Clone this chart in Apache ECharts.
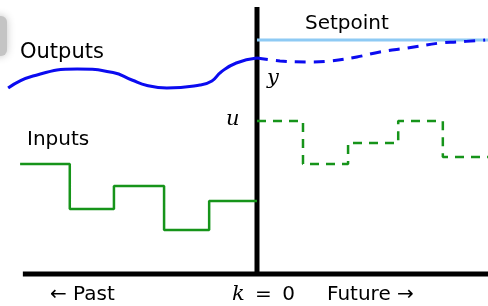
<!DOCTYPE html>
<html lang="en">
<head>
    <meta charset="UTF-8">
    <title>MPC</title>
    <script src="https://cdn.jsdelivr.net/npm/echarts@6/dist/echarts.min.js"></script>
    <style>
        html, body { margin: 0; padding: 0; background: #fff; }
        #main { width: 488px; height: 306px; }
    </style>
</head>
<body>
<div id="main"></div>
<script>
    // time in sample steps (k = 0 is now), values in arbitrary units
    const outT = [-5.41, -4.87, -3.91, -3.13, -2.72, -2.39, -1.96, -1.24, -0.98, -0.78, -0.45, 0];
    const outY = [18.6, 19.8, 20.5, 20.15, 19.4, 18.85, 18.6, 18.9, 19.3, 20.2, 21.1, 21.6];
    const predT = [0, 0.5, 1.09, 1.59, 2.17, 2.67, 3.26, 3.98, 4.35, 4.96];
    const predY = [21.6, 21.3, 21.2, 21.3, 21.7, 22.2, 22.6, 23.1, 23.2, 23.4];
    const setpoint = 23.4;
    const pastEdges = [-5.15, -4.07, -3.11, -2.02, -1.04, 0];
    const pastU = [11.0, 6.5, 8.8, 4.4, 7.3];
    const futEdges = [0, 1, 1.98, 3.07, 4.04, 5.02];
    const futU = [15.3, 11.0, 13.1, 15.3, 11.7];
    const tMin = -5.587, tMax = 5.022, axisStart = -5.09, nowTop = 26.7;

    function steps(edges, vals) {
        let d = vals.map((v, i) => [edges[i], v]);
        d.push([edges[edges.length - 1], vals[vals.length - 1]]);
        return d;
    }
    function pairs(xs, ys) {
        return xs.map((x, i) => [x, ys[i]]);
    }

    let myChart = echarts.init(document.getElementById('main'));
    let green = '#16941a';
    let blue = '#0b0bf0';
    let font = '"DejaVu Sans", sans-serif';
    let option = {
        animation: false,
        grid: {left: 0, right: 0, top: 0, bottom: 0},
        xAxis: {type: 'value', min: tMin, max: tMax, show: false},
        yAxis: {type: 'value', min: -3.2, max: 27.4, show: false},
        series: [
            {type: 'line', data: [[axisStart, 0], [tMax, 0]], showSymbol: false,
                lineStyle: {color: '#000', width: 5}},
            {type: 'line', data: [[0, 0], [0, nowTop]], showSymbol: false,
                lineStyle: {color: '#000', width: 5}},
            {type: 'line', data: [[0, setpoint], [tMax, setpoint]], showSymbol: false,
                lineStyle: {color: '#8ecaf4', width: 3}},
            {type: 'line', data: pairs(outT, outY), smooth: 0.5, showSymbol: false,
                lineStyle: {color: blue, width: 3}},
            {type: 'line', data: pairs(predT, predY), smooth: 0.4, showSymbol: false,
                lineStyle: {color: blue, width: 3, type: [11, 8]}},
            {type: 'line', data: steps(pastEdges, pastU), step: 'end', showSymbol: false,
                lineStyle: {color: green, width: 2.5}},
            {type: 'line', data: steps(futEdges, futU), step: 'end', showSymbol: false,
                lineStyle: {color: green, width: 2.5, type: [9, 7]}}
        ],
        graphic: [
            {type: 'rect', shape: {x: -12, y: 16, width: 19, height: 40, r: 6},
                style: {fill: '#c4c4c4', shadowBlur: 8, shadowColor: '#c4c4c4'}},
            {type: 'text', x: 20, y: 53, style: {text: 'Outputs', font: '21px ' + font, fill: '#000', verticalAlign: 'middle'}},
            {type: 'text', x: 305, y: 24, style: {text: 'Setpoint', font: '20px ' + font, fill: '#000', verticalAlign: 'middle'}},
            {type: 'text', x: 27, y: 140, style: {text: 'Inputs', font: '20px ' + font, fill: '#000', verticalAlign: 'middle'}},
            {type: 'text', x: 267, y: 79, style: {text: 'y', font: 'italic 21px "DejaVu Serif", serif', fill: '#000', verticalAlign: 'middle'}},
            {type: 'text', x: 226, y: 120, style: {text: 'u', font: 'italic 21px "DejaVu Serif", serif', fill: '#000', verticalAlign: 'middle'}},
            {type: 'text', x: 50, y: 295, style: {text: '\u2190 Past', font: '20px ' + font, fill: '#000', verticalAlign: 'middle'}},
            {type: 'text', x: 232, y: 295, style: {
                text: '{i|k} \u2009=\u2009 0', font: '20px ' + font, fill: '#000', verticalAlign: 'middle',
                rich: {i: {font: 'italic 21px "DejaVu Serif", serif', fill: '#000'}}}},
            {type: 'text', x: 327, y: 295, style: {text: 'Future \u2192', font: '20px ' + font, fill: '#000', verticalAlign: 'middle'}}
        ]
    };
    myChart.setOption(option);
</script>
</body>
</html>
